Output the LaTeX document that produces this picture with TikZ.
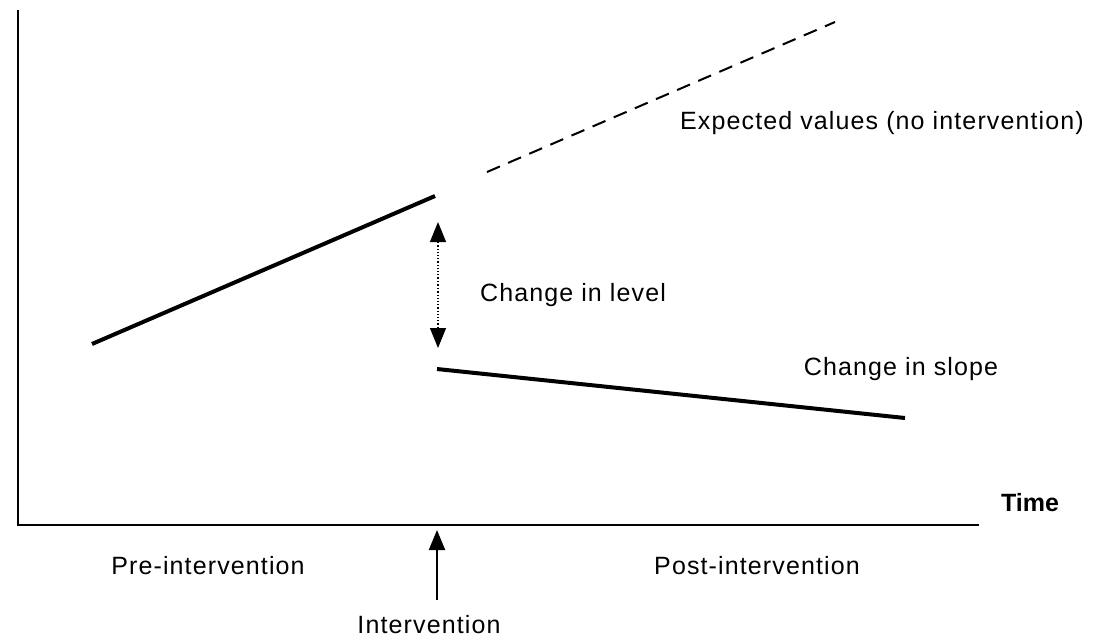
\documentclass[tikz,border=0pt]{standalone}
\usepackage{fontspec}
\setmainfont{Liberation Sans}
\newfontfamily\spacedfont[LetterSpace=4.5]{Liberation Sans}
\usetikzlibrary{arrows.meta}
\begin{document}
\begin{tikzpicture}[x=0.5pt,y=-0.5pt,
  lbl/.style={font=\spacedfont\fontsize{12.5}{14}\selectfont, inner sep=0pt},
  axisline/.style={line width=1.3pt},
  trend/.style={line width=2pt},
  tip/.style={-{Triangle[width=8pt,length=10pt]}}]
\useasboundingbox (0,0) rectangle (1099,638);
\coordinate (ytop) at (18,10);
\coordinate (origin) at (18,525);
\coordinate (xend) at (979,525);
\draw[axisline] (ytop) -- (origin) -- (xend);
% trend lines
\coordinate (preA) at (92,344);
\coordinate (preB) at (435,196);
\draw[trend] (preA) -- (preB);
\coordinate (expA) at (487,172);
\coordinate (expB) at (835,22);
\draw[line width=1pt, dash pattern=on 7pt off 4.5pt] (expA) -- (expB);
\coordinate (postA) at (437,369);
\coordinate (postB) at (905,418);
\draw[trend] (postA) -- (postB);
% change in level arrow
\coordinate (lvTop) at (438,222);
\coordinate (lvBot) at (438,348);
\coordinate (lvMid) at (438,285);
\draw[line width=0.6pt, densely dotted, tip] (lvMid) -- (lvTop);
\draw[line width=0.6pt, densely dotted, tip] (lvMid) -- (lvBot);
% intervention arrow
\coordinate (intBot) at (437,600);
\coordinate (intTop) at (437,530);
\draw[line width=1pt, tip] (intBot) -- (intTop);
% labels
\node[lbl] (expected) at (882,123) {Expected values (no intervention)};
\node[lbl] (level) at (573,295) {Change in level};
\node[lbl] (slope) at (901,369) {Change in slope};
\node[lbl, font=\fontsize{12.5}{14}\selectfont\bfseries] (time) at (1030,503) {Time};
\node[lbl] (pre) at (208,566) {Pre-intervention};
\node[lbl] (post) at (757,566) {Post-intervention};
\node[lbl] (interv) at (429,625) {Intervention};
\end{tikzpicture}
\end{document}
